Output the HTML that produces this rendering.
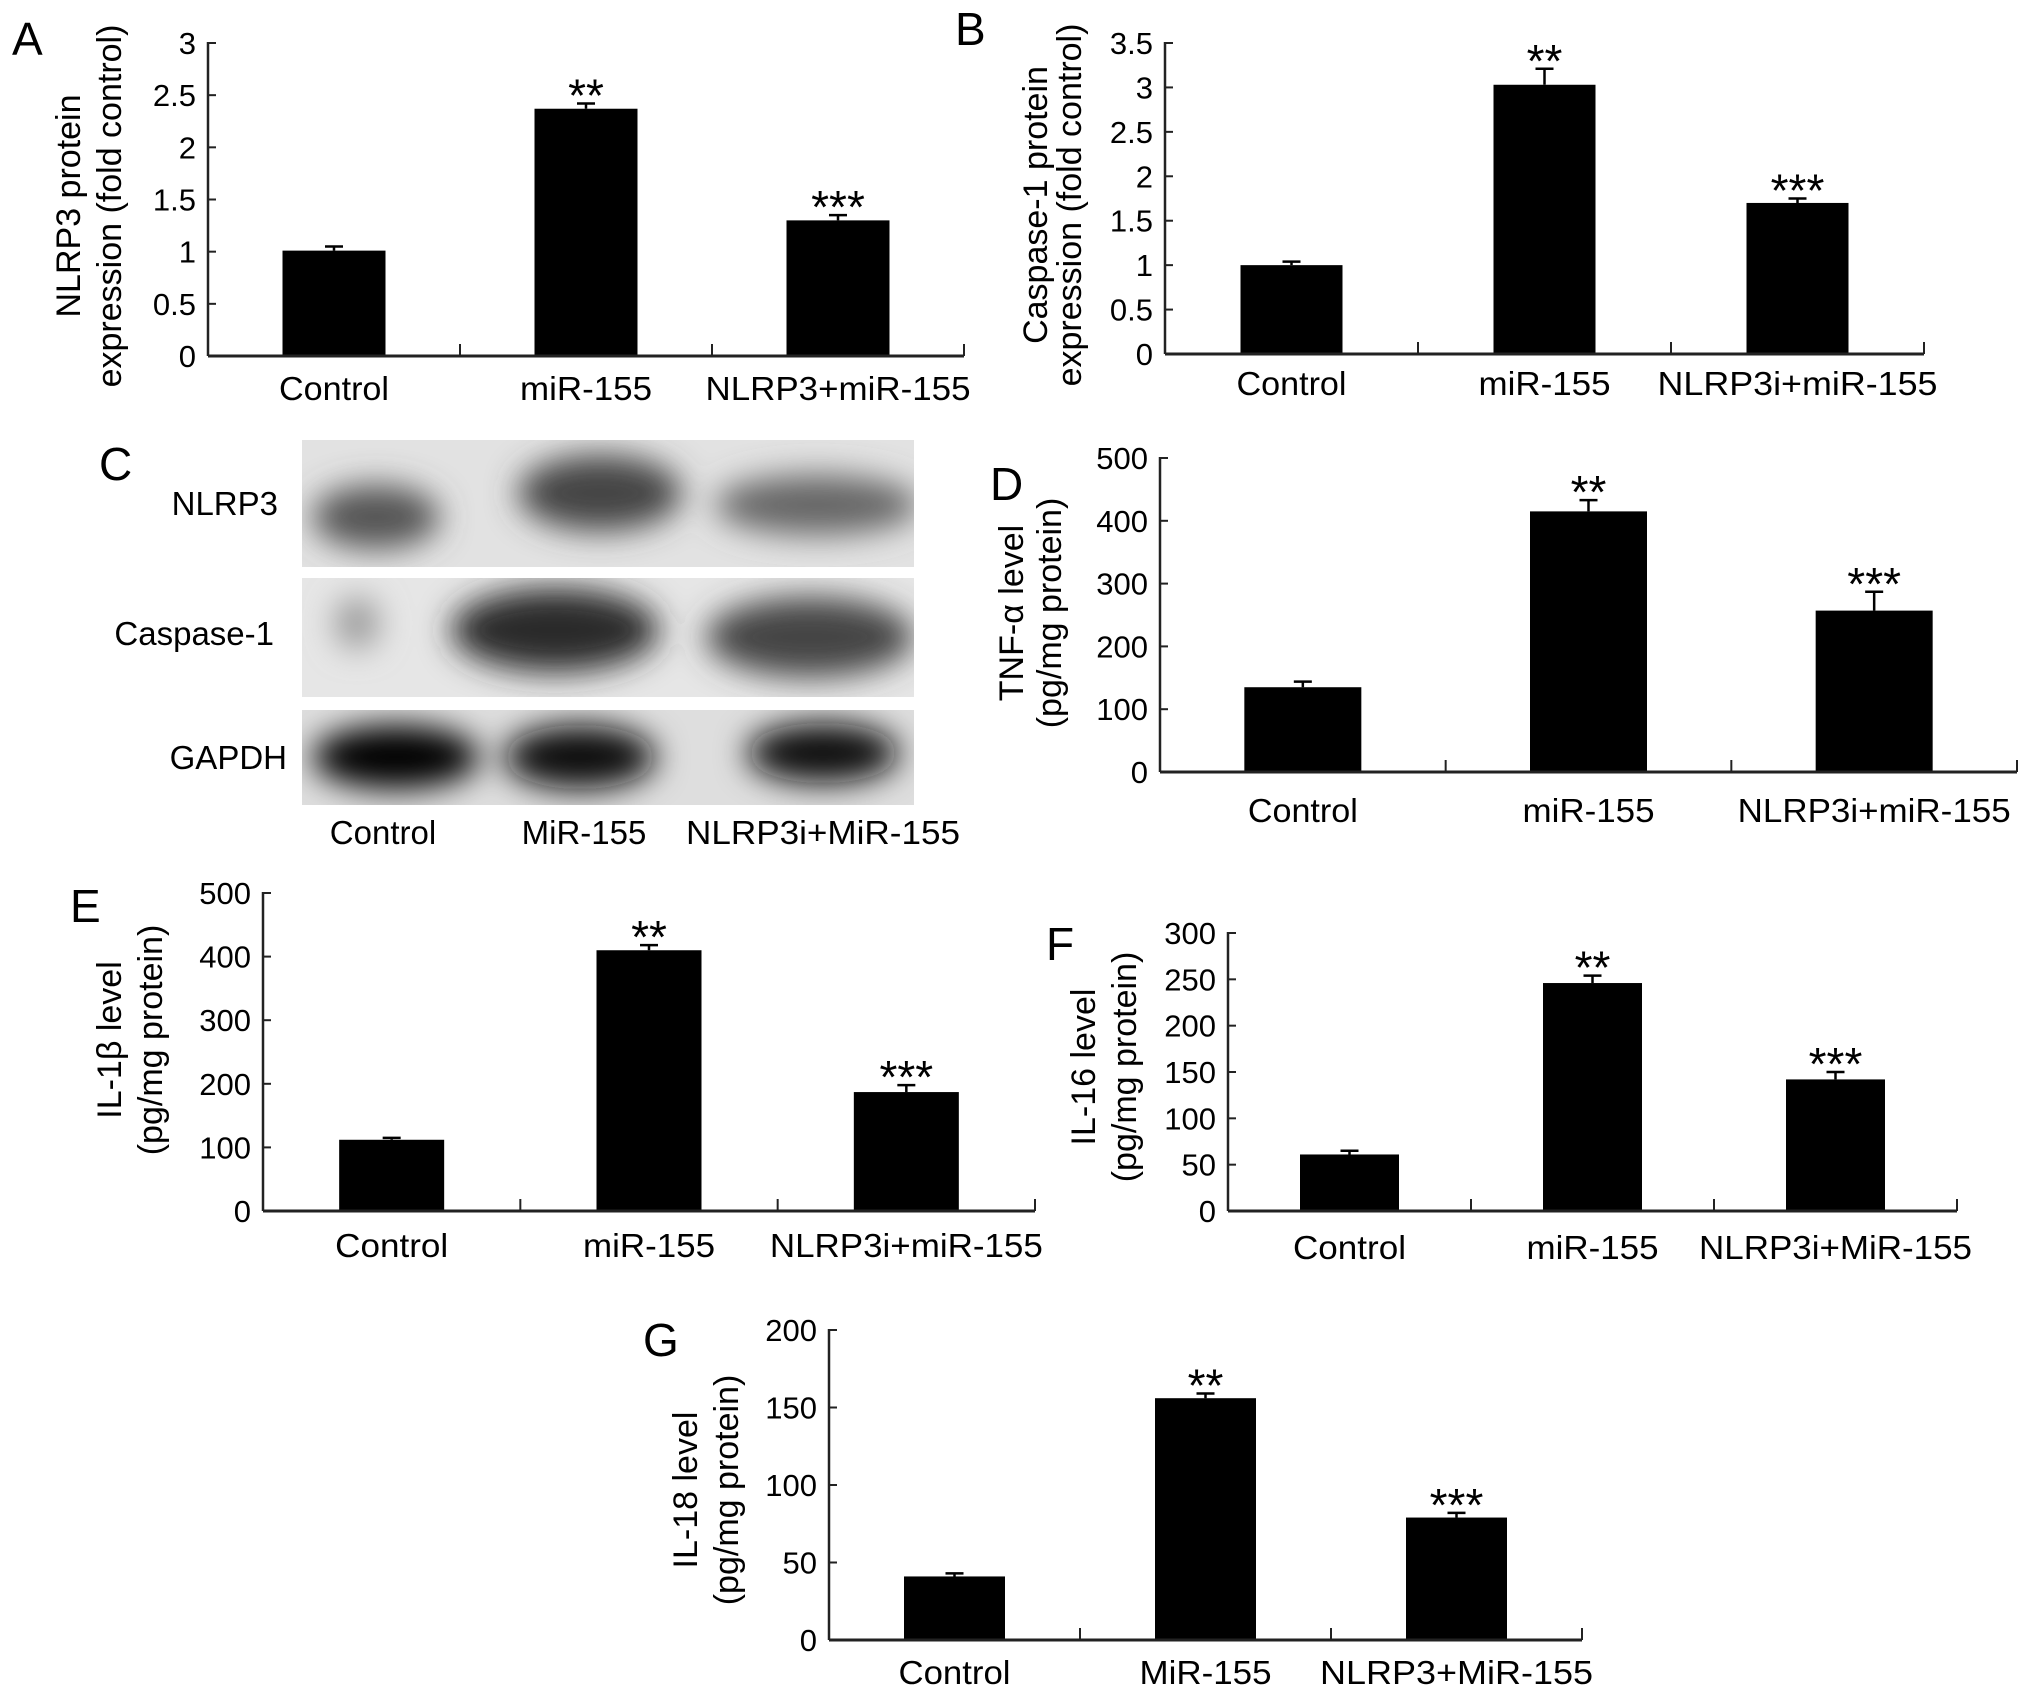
<!DOCTYPE html>
<html><head><meta charset="utf-8"><style>
html,body{margin:0;padding:0;background:#fff;}
svg{display:block;font-family:"Liberation Sans",sans-serif;}
</style></head><body>
<svg id="fig" width="2031" height="1697" viewBox="0 0 2031 1697" xmlns="http://www.w3.org/2000/svg">
<defs>
<filter id="blur" x="-50%" y="-50%" width="200%" height="200%"><feGaussianBlur stdDeviation="16"/></filter>
<clipPath id="c1"><rect x="302" y="440" width="612" height="127"/></clipPath>
<clipPath id="c2"><rect x="302" y="578" width="612" height="119"/></clipPath>
<clipPath id="c3"><rect x="302" y="710" width="612" height="95"/></clipPath>
</defs>
<g>
<text x="99" y="480" font-size="46">C</text>
<rect x="302" y="440" width="612" height="127" fill="#e2e2e2"/>
<rect x="302" y="578" width="612" height="119" fill="#e6e6e6"/>
<rect x="302" y="710" width="612" height="95" fill="#dedede"/>
<g clip-path="url(#c1)" filter="url(#blur)">
<ellipse cx="376" cy="517" rx="64" ry="32" fill="#555"/>
<ellipse cx="600" cy="493" rx="82" ry="38" fill="#444"/>
<ellipse cx="817" cy="505" rx="102" ry="30" fill="#666"/>
</g>
<g clip-path="url(#c2)" filter="url(#blur)">
<ellipse cx="357" cy="623" rx="22" ry="26" fill="#999"/>
<ellipse cx="555" cy="630" rx="104" ry="42" fill="#2a2a2a"/>
<ellipse cx="810" cy="637" rx="104" ry="40" fill="#444"/>
</g>
<g clip-path="url(#c3)" filter="url(#blur)">
<ellipse cx="396" cy="757" rx="84" ry="32" fill="#000"/>
<ellipse cx="580" cy="757" rx="76" ry="32" fill="#111"/>
<ellipse cx="823" cy="753" rx="76" ry="30" fill="#111"/>
</g>
<text x="278" y="515" font-size="33" text-anchor="end">NLRP3</text>
<text x="274" y="645" font-size="33" text-anchor="end">Caspase-1</text>
<text x="287" y="769" font-size="33" text-anchor="end">GAPDH</text>
<text x="383" y="844" font-size="33" text-anchor="middle">Control</text>
<text x="584" y="844" font-size="33" text-anchor="middle">MiR-155</text>
<text x="823" y="844" font-size="33" text-anchor="middle" textLength="274" lengthAdjust="spacingAndGlyphs">NLRP3i+MiR-155</text>
</g>
</svg>
<script>
// Panel A
const aCategories = ["Control", "miR-155", "NLRP3+miR-155"];
const aValues = [1.01, 2.37, 1.30];
const aErrors = [0.04, 0.05, 0.05];
const aStars = ["", "**", "***"];
const aTicks = ["0", "0.5", "1", "1.5", "2", "2.5", "3"];
// Panel B
const bCategories = ["Control", "miR-155", "NLRP3i+miR-155"];
const bValues = [1.0, 3.03, 1.70];
const bErrors = [0.04, 0.18, 0.05];
const bStars = ["", "**", "***"];
const bTicks = ["0", "0.5", "1", "1.5", "2", "2.5", "3", "3.5"];
// Panel D
const dCategories = ["Control", "miR-155", "NLRP3i+miR-155"];
const dValues = [135, 415, 257];
const dErrors = [9, 18, 30];
const dStars = ["", "**", "***"];
const dTicks = ["0", "100", "200", "300", "400", "500"];
// Panel E
const eCategories = ["Control", "miR-155", "NLRP3i+miR-155"];
const eValues = [112, 410, 187];
const eErrors = [3, 8, 11];
const eStars = ["", "**", "***"];
const eTicks = ["0", "100", "200", "300", "400", "500"];
// Panel F
const fCategories = ["Control", "miR-155", "NLRP3i+MiR-155"];
const fValues = [61, 246, 142];
const fErrors = [4, 8, 8];
const fStars = ["", "**", "***"];
const fTicks = ["0", "50", "100", "150", "200", "250", "300"];
// Panel G
const gCategories = ["Control", "MiR-155", "NLRP3+MiR-155"];
const gValues = [41, 156, 79];
const gErrors = [2, 3, 3];
const gStars = ["", "**", "***"];
const gTicks = ["0", "50", "100", "150", "200"];

const NS = "http://www.w3.org/2000/svg";
const svg = document.getElementById("fig");
function mk(tag, attrs, parent, txt) {
  const e = document.createElementNS(NS, tag);
  for (const k in attrs) e.setAttribute(k, attrs[k]);
  if (txt !== undefined) e.textContent = txt;
  parent.appendChild(e);
  return e;
}
function panel(id, letter, L, cats, vals, errs, stars, ticks, title1, title2) {
  const g = mk("g", {}, svg);
  
  
  const tmax = parseFloat(ticks[ticks.length - 1]);
  const y = v => L.y0 - (v / tmax) * (L.y0 - L.yt);
  const cw = (L.x1 - L.x0) / cats.length;
  const xc = i => L.x0 + cw * (i + 0.5);
  const lt = mk("text", {x: L.lx, y: L.ly, "font-size": 46}, g, letter);
  
  
  const ya = mk("line", {x1: L.x0, y1: L.yt - 1, x2: L.x0, y2: L.y0, stroke: "#222", "stroke-width": 2.5}, g);
  
  
  ticks.forEach((t, i) => {
    const v = parseFloat(t);
    mk("line", {x1: L.x0, y1: y(v), x2: L.x0 + 8, y2: y(v), stroke: "#222", "stroke-width": 2}, g);
    const tl = mk("text", {x: L.x0 - 12, y: y(v) + 11, "font-size": 31, "text-anchor": "end"}, g, t);
    
    
  });
  cats.forEach((c, i) => {
    const bx = xc(i) - L.bw / 2;
    const bar = mk("rect", {x: bx, y: y(vals[i]), width: L.bw, height: L.y0 - y(vals[i]), fill: "#000"}, g);
    
    
    const et = y(vals[i] + errs[i]);
    const eb = mk("path", {d: "M" + xc(i) + " " + y(vals[i]) + "V" + et + "M" + (xc(i) - 9) + " " + et + "H" + (xc(i) + 9), stroke: "#000", "stroke-width": 2.5, fill: "none"}, g);
    
    
    if (stars[i]) {
      const st = mk("text", {x: xc(i), y: et + 8, "font-size": 46, "text-anchor": "middle"}, g, stars[i]);
      
      
    }
    const cl = mk("text", {x: xc(i), y: L.cy + 12, "font-size": 33, "text-anchor": "middle"}, g, c);
    if (L.tl && L.tl[i]) { cl.setAttribute("textLength", L.tl[i]); cl.setAttribute("lengthAdjust", "spacingAndGlyphs"); }
    
    
  });
  const xa = mk("line", {x1: L.x0, y1: L.y0, x2: L.x1, y2: L.y0, stroke: "#222", "stroke-width": 3}, g);
  
  
  for (let i = 1; i <= cats.length; i++) {
    mk("line", {x1: L.x0 + cw * i, y1: L.y0, x2: L.x0 + cw * i, y2: L.y0 - 12, stroke: "#222", "stroke-width": 2}, g);
  }
  const t1 = mk("text", {x: 0, y: 0, "font-size": 34, "text-anchor": "middle", transform: "translate(" + L.t1x + "," + L.ty + ") rotate(-90)"}, g, title1);
  
  
  const t2 = mk("text", {x: 0, y: 0, "font-size": 34, "text-anchor": "middle", transform: "translate(" + L.t2x + "," + L.ty + ") rotate(-90)"}, g, title2);
  
  
}
panel("a", "A", {x0: 208, x1: 964, y0: 356, yt: 43, bw: 103, lx: 12, ly: 55, cy: 388, t1x: 80, t2x: 121, ty: 206, tl: [110, 132, 265]},
  aCategories, aValues, aErrors, aStars, aTicks, "NLRP3 protein", "expression (fold control)");
panel("b", "B", {x0: 1165, x1: 1924, y0: 354, yt: 43, bw: 102, lx: 955, ly: 45, cy: 383, t1x: 1047, t2x: 1081, ty: 205, tl: [110, 132, 280]},
  bCategories, bValues, bErrors, bStars, bTicks, "Caspase-1 protein", "expression (fold control)");
panel("d", "D", {x0: 1160, x1: 2017, y0: 772, yt: 458, bw: 117, lx: 990, ly: 500, cy: 810, t1x: 1023, t2x: 1061, ty: 613, tl: [110, 132, 273]},
  dCategories, dValues, dErrors, dStars, dTicks, "TNF-\u03b1 level", "(pg/mg protein)");
panel("e", "E", {x0: 263, x1: 1035, y0: 1211, yt: 893, bw: 105, lx: 70, ly: 922, cy: 1245, t1x: 121, t2x: 162, ty: 1040, tl: [113, 132, 273]},
  eCategories, eValues, eErrors, eStars, eTicks, "IL-1\u03b2 level", "(pg/mg protein)");
panel("f", "F", {x0: 1228, x1: 1957, y0: 1211, yt: 933, bw: 99, lx: 1046, ly: 960, cy: 1247, t1x: 1095, t2x: 1136, ty: 1067, tl: [113, 132, 273]},
  fCategories, fValues, fErrors, fStars, fTicks, "IL-16 level", "(pg/mg protein)");
panel("g", "G", {x0: 829, x1: 1582, y0: 1640, yt: 1330, bw: 101, lx: 643, ly: 1356, cy: 1672, t1x: 697, t2x: 738, ty: 1490, tl: [112, 132, 273]},
  gCategories, gValues, gErrors, gStars, gTicks, "IL-18 level", "(pg/mg protein)");
</script>
</body></html>
